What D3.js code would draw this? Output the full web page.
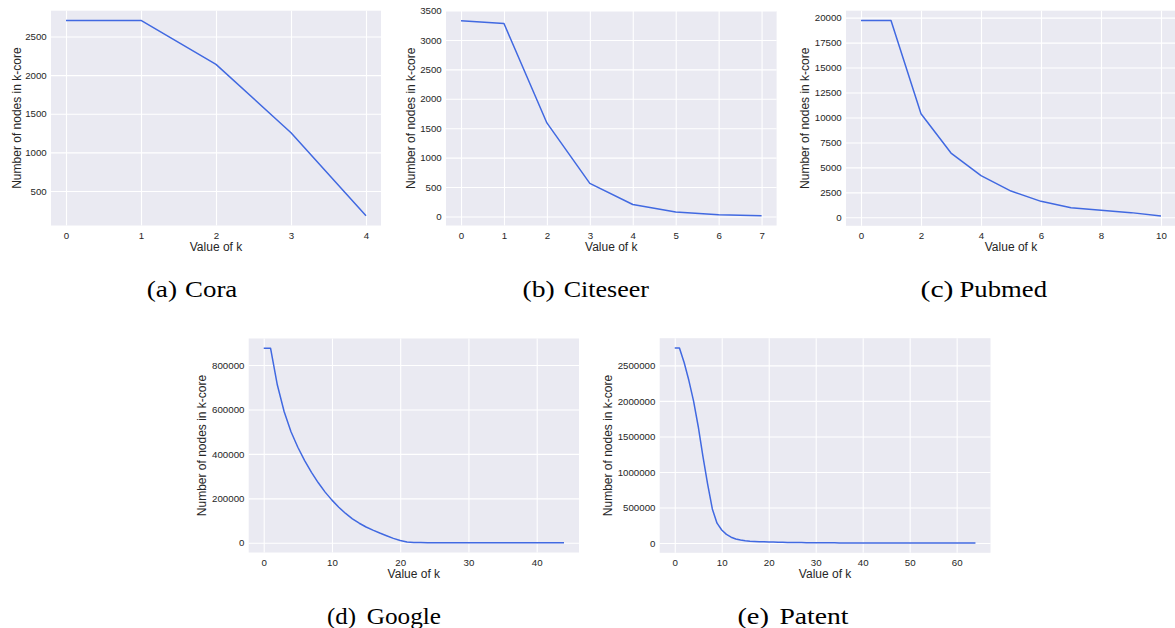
<!DOCTYPE html>
<html>
<head>
<meta charset="utf-8">
<script src="https://cdn.jsdelivr.net/npm/d3@7"></script>
<style>
  html, body { margin: 0; padding: 0; background: #ffffff; }
  svg { display: block; }
</style>
</head>
<body>
<div id="chart"></div>
<script>
// ---------------- data ----------------
const coraK = [0, 1, 2, 3, 4];
const coraV = [2708, 2708, 2140, 1255, 180];

const citeseerK = [0, 1, 2, 3, 4, 5, 6, 7];
const citeseerV = [3327, 3280, 1590, 562, 204, 75, 29, 12];

const pubmedK = [0, 1, 2, 3, 4, 5, 6, 7, 8, 9, 10];
const pubmedV = [19717, 19717, 10380, 6440, 4170, 2630, 1600, 960, 700, 470, 130];

const googleK = d3.range(0, 45);
const googleV = [875713, 875713, 710000, 590000, 500000, 430000, 370000, 317000, 270000, 228000,
                 192000, 160000, 132000, 108000, 88000, 71000, 57000, 44000, 32000, 20000,
                 10000, 3500, 1200, 800, 650, 550, 480, 420, 370, 330,
                 300, 270, 240, 220, 200, 180, 160, 140, 120, 110,
                 100, 90, 80, 70, 60];

const patentK = d3.range(0, 65);
const patentV = [2745000, 2745000, 2540000, 2290000, 2000000, 1640000, 1220000, 830000, 480000, 280000,
                 183000, 122000, 82000, 57000, 42000, 33000, 27000, 23000, 20000, 17300,
                 15000, 13100, 11500, 10100, 8900, 7900, 7000, 6200, 5500, 4900,
                 4400, 3900, 3500, 3100, 2800, 2500, 2250, 2000, 1800, 1620,
                 1460, 1310, 1180, 1060, 950, 860, 770, 700, 630, 570,
                 510, 460, 420, 380, 340, 310, 280, 250, 225, 200,
                 180, 160, 140, 120, 100];

const coraXTicks = [0, 1, 2, 3, 4];
const coraYTicks = [500, 1000, 1500, 2000, 2500];
const citeseerXTicks = [0, 1, 2, 3, 4, 5, 6, 7];
const citeseerYTicks = [0, 500, 1000, 1500, 2000, 2500, 3000, 3500];
const pubmedXTicks = [0, 2, 4, 6, 8, 10];
const pubmedYTicks = [0, 2500, 5000, 7500, 10000, 12500, 15000, 17500, 20000];
const googleXTicks = [0, 10, 20, 30, 40];
const googleYTicks = [0, 200000, 400000, 600000, 800000];
const patentXTicks = [0, 10, 20, 30, 40, 50, 60];
const patentYTicks = [0, 500000, 1000000, 1500000, 2000000, 2500000];

const captionLetters = ["(a)", "(b)", "(c)", "(d)", "(e)"];
const captionNames = ["Cora", "Citeseer", "Pubmed", "Google", "Patent"];

const xLabel = "Value of k";
const yLabel = "Number of nodes in k-core";

// ---------------- layout ----------------
const W = 1175, H = 628;
const layout = [
  { x0: 51,    x1: 381,   y0: 10.7,  y1: 225.5, ylabX: 16.7,
    capParen: [146.7, 177], capName: [185, 237.3], capY: 297.3 },
  { x0: 446,   x1: 776.6, y0: 11,    y1: 225.5, ylabX: 410.7,
    capParen: [522.5, 554.7], capName: [563.7, 649], capY: 297.3 },
  { x0: 846,   x1: 1176,  y0: 10.7,  y1: 225.8, ylabX: 805,
    capParen: [920.5, 953.5], capName: [959.5, 1047], capY: 297.3 },
  { x0: 248.7, x1: 579,   y0: 338.5, y1: 552.5, ylabX: 201.7,
    capParen: [327, 356], capName: [366.7, 441], capY: 624 },
  { x0: 659.7, x1: 990.5, y0: 338.2, y1: 552.8, ylabX: 607.7,
    capParen: [737.4, 769], capName: [779.4, 848.5], capY: 624 }
];

const panels = [
  { k: coraK, v: coraV, xt: coraXTicks, yt: coraYTicks },
  { k: citeseerK, v: citeseerV, xt: citeseerXTicks, yt: citeseerYTicks },
  { k: pubmedK, v: pubmedV, xt: pubmedXTicks, yt: pubmedYTicks },
  { k: googleK, v: googleV, xt: googleXTicks, yt: googleYTicks },
  { k: patentK, v: patentV, xt: patentXTicks, yt: patentYTicks }
];

const BG = "#EAEAF2";
const TEXT = "#262626";
const LINE = "#4169E1";
const SANS = "'Liberation Sans', Arial, sans-serif";
const SERIF = "'Liberation Serif', 'Times New Roman', serif";

const svg = d3.select("#chart").append("svg")
  .attr("width", W).attr("height", H)
  .attr("viewBox", `0 0 ${W} ${H}`);

svg.append("rect").attr("width", W).attr("height", H).attr("fill", "#ffffff");

function padded(ext) {
  const r = ext[1] - ext[0];
  return [ext[0] - 0.05 * r, ext[1] + 0.05 * r];
}

panels.forEach((p, i) => {
  const L = layout[i];
  const w = L.x1 - L.x0, h = L.y1 - L.y0;
  const x = d3.scaleLinear().domain(padded(d3.extent(p.k))).range([L.x0, L.x1]);
  const y = d3.scaleLinear().domain(padded(d3.extent(p.v))).range([L.y1, L.y0]);

  const g = svg.append("g");
  const clipId = "clip" + i;
  svg.append("clipPath").attr("id", clipId)
    .append("rect").attr("x", L.x0).attr("y", L.y0).attr("width", w).attr("height", h);

  g.append("rect").attr("x", L.x0).attr("y", L.y0).attr("width", w).attr("height", h)
    .attr("fill", BG);

  // x axis with gridlines
  const gx = g.append("g")
    .attr("transform", `translate(0,${L.y1})`)
    .call(d3.axisBottom(x).tickValues(p.xt).tickSize(-h).tickPadding(6.7)
      .tickFormat(d3.format("d")));
  gx.select(".domain").remove();
  gx.selectAll(".tick line").attr("stroke", "#ffffff").attr("stroke-width", 1.1);
  gx.selectAll(".tick text").attr("fill", TEXT)
    .style("font-family", SANS).style("font-size", "9.7px");

  // y axis with gridlines (only ticks inside the view)
  const yd = y.domain();
  const yt = p.yt.filter(t => t >= yd[0] && t <= yd[1] + (yd[1] - yd[0]) * 0.01);
  const gy = g.append("g")
    .attr("transform", `translate(${L.x0},0)`)
    .call(d3.axisLeft(y).tickValues(yt).tickSize(-w).tickPadding(4.3)
      .tickFormat(d3.format("d")));
  gy.select(".domain").remove();
  gy.selectAll(".tick line").attr("stroke", "#ffffff").attr("stroke-width", 1.1);
  gy.selectAll(".tick text").attr("fill", TEXT)
    .style("font-family", SANS).style("font-size", "9.7px");

  // line
  const line = d3.line().x((d, j) => x(p.k[j])).y(d => y(d));
  g.append("path").datum(p.v)
    .attr("d", line)
    .attr("fill", "none")
    .attr("stroke", LINE)
    .attr("stroke-width", 1.5)
    .attr("stroke-linejoin", "round")
    .attr("clip-path", `url(#${clipId})`);

  // axis labels
  g.append("text")
    .attr("x", (L.x0 + L.x1) / 2)
    .attr("y", L.y1 + 25.5)
    .attr("text-anchor", "middle")
    .attr("fill", TEXT)
    .style("font-family", SANS).style("font-size", "12px")
    .text(xLabel);

  g.append("text")
    .attr("transform", `translate(${L.ylabX},${(L.y0 + L.y1) / 2}) rotate(-90)`)
    .attr("text-anchor", "middle")
    .attr("dy", "0.35em")
    .attr("fill", TEXT)
    .style("font-family", SANS).style("font-size", "12px")
    .text(yLabel);

  // caption
  g.append("text")
    .attr("x", L.capParen[0]).attr("y", L.capY)
    .attr("textLength", L.capParen[1] - L.capParen[0])
    .attr("lengthAdjust", "spacingAndGlyphs")
    .attr("fill", "#000000")
    .style("font-family", SERIF).style("font-size", "23px")
    .text(captionLetters[i]);
  g.append("text")
    .attr("x", L.capName[0]).attr("y", L.capY)
    .attr("textLength", L.capName[1] - L.capName[0])
    .attr("lengthAdjust", "spacingAndGlyphs")
    .attr("fill", "#000000")
    .style("font-family", SERIF).style("font-size", "23px")
    .text(captionNames[i]);
});
</script>
</body>
</html>
